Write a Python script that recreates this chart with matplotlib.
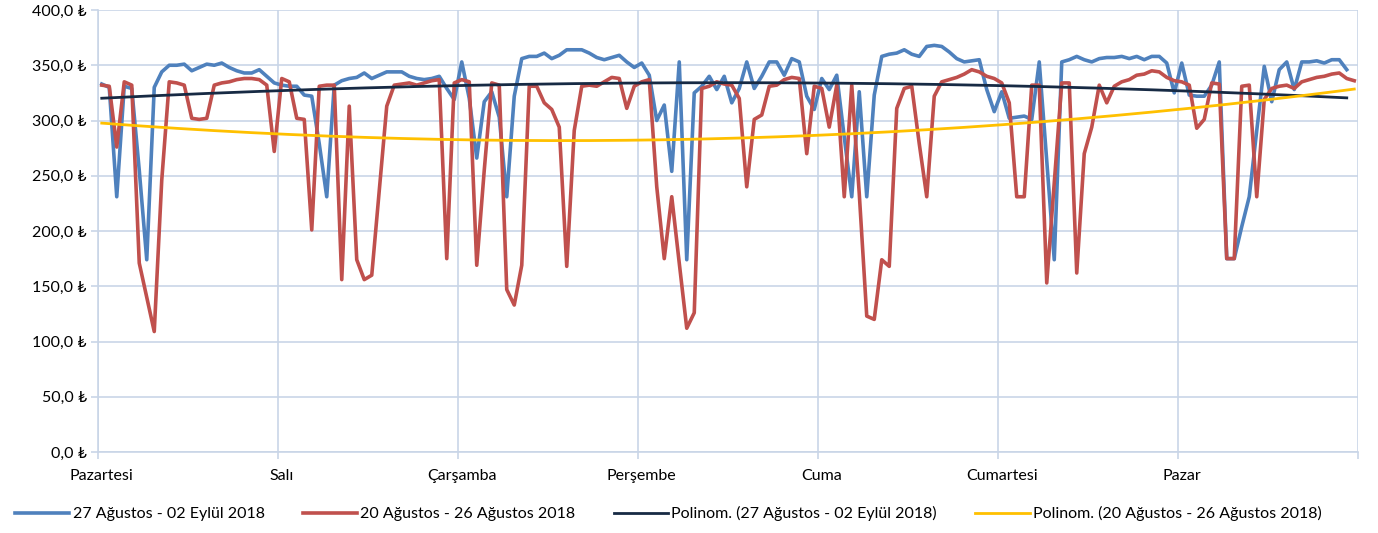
import numpy as np
import matplotlib
matplotlib.use('Agg')
import matplotlib.pyplot as plt
from matplotlib.ticker import FuncFormatter

plt.rcParams['font.family'] = ['Lato', 'DejaVu Sans']

# Günler (her gün 24 saatlik değer)
gunler = ['Pazartesi', 'Salı', 'Çarşamba', 'Perşembe', 'Cuma', 'Cumartesi', 'Pazar']

# 27 Ağustos - 02 Eylül 2018 (saatlik)
seri_eylul = [
    333, 330, 231, 331, 329, 255, 174, 330, 344, 350, 350, 351, 345, 348, 351, 350, 352, 348, 345, 343, 343, 346, 340, 334,
    332, 331, 331, 323, 322, 279, 231, 332, 336, 338, 339, 343, 338, 341, 344, 344, 344, 340, 338, 337, 338, 340, 329, 319,
    353, 320, 266, 317, 326, 303, 231, 322, 356, 358, 358, 361, 356, 359, 364, 364, 364, 361, 357, 355, 357, 359, 353, 348,
    352, 341, 300, 314, 254, 353, 174, 325, 331, 340, 328, 340, 316, 329, 353, 329, 340, 353, 353, 341, 356, 353, 322, 310,
    338, 328, 341, 285, 231, 326, 231, 323, 358, 360, 361, 364, 360, 358, 367, 368, 367, 362, 356, 353, 354, 355, 328, 308,
    326, 302, 303, 304, 301, 353, 264, 174, 353, 355, 358, 355, 353, 356, 357, 357, 358, 356, 358, 355, 358, 358, 352, 325,
    352, 323, 322, 322, 332, 353, 175, 175, 204, 231, 291, 349, 317, 346, 353, 328, 353, 353, 354, 352, 355, 355, 346,
]

# 20 Ağustos - 26 Ağustos 2018 (saatlik)
seri_agustos = [
    332, 331, 276, 335, 332, 171, 140, 109, 246, 335, 334, 332, 302, 301, 302, 332, 334, 335, 337, 338, 338, 337, 332, 272,
    338, 335, 302, 301, 201, 331, 332, 332, 156, 313, 174, 156, 160, 237, 313, 332, 333, 334, 332, 334, 336, 337, 175, 334,
    337, 335, 169, 255, 334, 332, 147, 133, 169, 331, 331, 316, 310, 294, 168, 291, 331, 332, 331, 335, 339, 338, 311, 331,
    335, 337, 240, 175, 231, 171, 112, 126, 329, 331, 335, 333, 332, 320, 240, 301, 305, 331, 332, 337, 339, 338, 270, 331,
    329, 294, 332, 231, 332, 234, 123, 120, 174, 168, 311, 329, 331, 279, 231, 322, 335, 337, 339, 342, 346, 344, 340, 338,
    334, 316, 231, 231, 332, 332, 153, 243, 334, 334, 162, 270, 294, 332, 316, 331, 335, 337, 341, 342, 345, 344, 339, 336,
    335, 332, 293, 301, 334, 333, 175, 175, 331, 332, 231, 319, 329, 331, 332, 329, 335, 337, 339, 340, 342, 343, 338, 336,
]

etiketler = ['27 Ağustos - 02 Eylül 2018', '20 Ağustos - 26 Ağustos 2018']

x1 = np.arange(len(seri_eylul))
x2 = np.arange(len(seri_agustos))

# Polinom trend çizgileri (2. derece)
trend1 = np.polyval(np.polyfit(x1, seri_eylul, 2), x1)
trend2 = np.polyval(np.polyfit(x2, seri_agustos, 2), x2)

fig = plt.figure(figsize=(13.78, 5.33), dpi=100)
ax = fig.add_axes([98 / 1378, 1 - 452 / 533, 1260 / 1378, 442 / 533])

izgara = '#C9D5E7'
ax.plot(x1, seri_eylul, color='#4F81BD', lw=2.6, label=etiketler[0], solid_joinstyle='round')
ax.plot(x2, seri_agustos, color='#C0504D', lw=2.6, label=etiketler[1], solid_joinstyle='round')
ax.plot(x1, trend1, color='#172A44', lw=2.0, label='Polinom. (' + etiketler[0] + ')')
ax.plot(x2, trend2, color='#FFC000', lw=2.0, label='Polinom. (' + etiketler[1] + ')')

ax.set_xlim(-0.5, 167.5)
ax.set_ylim(0, 400)
ax.set_yticks(np.arange(0, 401, 50))
ax.yaxis.set_major_formatter(FuncFormatter(lambda v, p: f'{v:.1f}'.replace('.', ',') + ' ₺'))

ax.set_xticks(np.arange(0, 168, 24))
ax.set_xticklabels(gunler)
ax.set_xticks(np.arange(-0.5, 168, 24), minor=True)
ax.tick_params(axis='x', which='major', length=0, pad=12, labelsize=11.5)
ax.tick_params(axis='x', which='minor', length=5, color=izgara, width=1.2)
ax.tick_params(axis='y', length=5, color=izgara, width=1.2, labelsize=11.5, pad=3)

ax.grid(axis='y', color=izgara, lw=1.2)
ax.grid(axis='x', which='minor', color=izgara, lw=1.2)
ax.set_axisbelow(True)
for s in ['top', 'right']:
    ax.spines[s].set_visible(False)
for s in ['left', 'bottom']:
    ax.spines[s].set_color(izgara)
    ax.spines[s].set_linewidth(1.2)

fig.legend(loc='lower center', bbox_to_anchor=(0.485, -0.005), ncol=4, frameon=False,
           fontsize=11.5, handlelength=3.4, handletextpad=0.2, columnspacing=2.4)

fig.savefig('out.png', dpi=100)
